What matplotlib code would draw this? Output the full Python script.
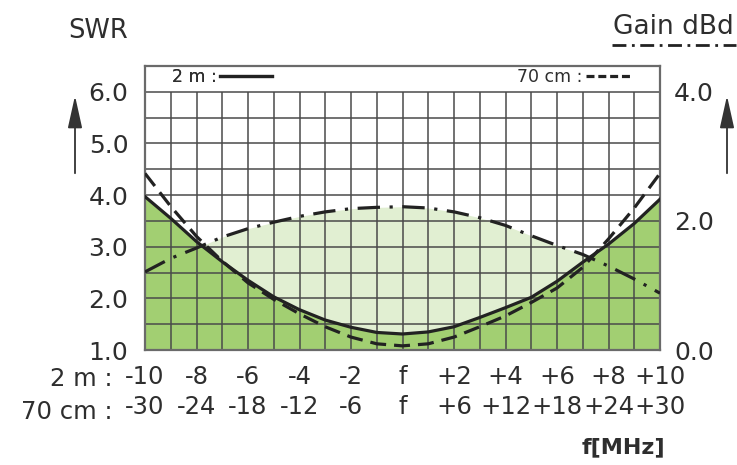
import numpy as np
import matplotlib.pyplot as plt
from matplotlib.lines import Line2D

plt.rcParams['font.family'] = ['DejaVu Sans']

# frequency offset from centre (2 m band, MHz); 70 cm band is 3x
offset = np.arange(-10, 11)
swr_2m = [3.97, 3.55, 3.10, 2.71, 2.35, 2.03, 1.78, 1.58, 1.44, 1.34, 1.31,
          1.35, 1.45, 1.63, 1.82, 2.02, 2.33, 2.70, 3.05, 3.45, 3.92]
swr_70cm = [4.42, 3.78, 3.20, 2.72, 2.30, 1.98, 1.70, 1.45, 1.25, 1.12, 1.08,
            1.12, 1.25, 1.45, 1.66, 1.92, 2.20, 2.60, 3.15, 3.75, 4.42]
gain_dbd = [1.21, 1.42, 1.58, 1.75, 1.88, 1.98, 2.07, 2.14, 2.19, 2.21, 2.22,
            2.20, 2.14, 2.05, 1.93, 1.77, 1.62, 1.48, 1.30, 1.10, 0.88]

swr_ticks = [1.0, 2.0, 3.0, 4.0, 5.0, 6.0]
gain_ticks = [0.0, 2.0, 4.0]
tick_pos = [-10, -8, -6, -4, -2, 0, 2, 4, 6, 8, 10]
labels_2m = ['-10', '-8', '-6', '-4', '-2', 'f', '+2', '+4', '+6', '+8', '+10']
labels_70cm = ['-30', '-24', '-18', '-12', '-6', 'f', '+6', '+12', '+18', '+24', '+30']

dark_green = '#a2cf72'
light_green = '#e1efd2'
txt = '#2e2e2e'
W, H = 737, 465

fig = plt.figure(figsize=(W / 100, H / 100), dpi=100)
ax = fig.add_axes([145 / W, 1 - 350 / H, 515 / W, 284 / H])
ax.set_xlim(-10, 10)
ax.set_ylim(1.0, 6.5)

# gain scale: 0..4 dBd spans SWR 1..6
gain_on_swr = 1 + np.array(gain_dbd) * 1.25
swr_2m_a = np.array(swr_2m)

ax.fill_between(offset, 1.0, swr_2m_a, color=dark_green, lw=0, zorder=1)
ax.fill_between(offset, swr_2m_a, gain_on_swr, where=gain_on_swr > swr_2m_a,
                interpolate=True, color=light_green, lw=0, zorder=1)

# grid
ax.hlines(np.arange(1.0, 6.01, 0.5), -10, 10, color='#4a4a4a', lw=1.1, zorder=2)
ax.vlines(offset, 1.0, 6.0, color='#4a4a4a', lw=1.1, zorder=2)

ax.plot(offset, swr_2m, color='#222222', lw=2.3, zorder=4)
ax.plot(offset, swr_70cm, color='#222222', lw=2.3, ls=(0, (5, 2.5)), zorder=4)

ax.set_yticks(swr_ticks)
ax.set_yticklabels(['%.1f' % v for v in swr_ticks], fontsize=18, color=txt)
ax.set_xticks(tick_pos)
ax.set_xticklabels([a + '\n' + b for a, b in zip(labels_2m, labels_70cm)],
                   fontsize=17.5, color=txt, linespacing=1.3)
ax.tick_params(length=0, pad=12)
ax.tick_params(axis='x', pad=11)
for s in ax.spines.values():
    s.set_color('#6a6a6a')
    s.set_linewidth(1.6)

ax2 = ax.twinx()
ax2.set_ylim(0, 4.4)
ax2.plot(offset, gain_dbd, color='#222222', lw=2.3, ls=(0, (7, 3, 1, 3)), zorder=4)
ax2.set_yticks(gain_ticks)
ax2.set_yticklabels(['%.1f' % v for v in gain_ticks], fontsize=18, color=txt)
ax2.tick_params(length=0, pad=10)
for s in ax2.spines.values():
    s.set_visible(False)

# legend strip
h1 = Line2D([], [], color='#222222', lw=2.3)
h2 = Line2D([], [], color='#222222', lw=2.3, ls=(0, (2.5, 1.2)))
leg1 = ax.legend([h1], ['2 m :'], loc='upper left', frameon=False, markerfirst=False,
                 fontsize=12.5, handlelength=3.0, handletextpad=0.2,
                 borderaxespad=0.1, bbox_to_anchor=(0.035, 1.025))
for t in leg1.get_texts():
    t.set_color(txt)
ax.add_artist(leg1)
leg2 = ax2.legend([h2], ['70 cm :'], loc='upper right', frameon=False, markerfirst=False,
                  fontsize=12.5, handlelength=2.6, handletextpad=0.2,
                  borderaxespad=0.1, bbox_to_anchor=(0.96, 1.025))
for t in leg2.get_texts():
    t.set_color(txt)

# row names of the two frequency scales
fig.text(113 / W, 1 - 379 / H, '2 m :', ha='right', va='center', fontsize=17.5, color=txt)
fig.text(113 / W, 1 - 412 / H, '70 cm :', ha='right', va='center', fontsize=17.5, color=txt)
fig.text(623 / W, 1 - 447 / H, 'f[MHz]', ha='center', va='center', fontsize=16,
         color=txt, fontweight='bold')

# axis titles and arrows
fig.text(98 / W, 1 - 31 / H, 'SWR', ha='center', va='center', fontsize=18.5, color=txt)
fig.text(673 / W, 1 - 27 / H, 'Gain dBd', ha='center', va='center', fontsize=19, color=txt)
fig.add_artist(Line2D([612 / W, 736 / W], [1 - 45 / H] * 2, transform=fig.transFigure,
                      color='#222222', lw=2, ls=(0, (5, 2, 1, 2))))
for xa in (75, 727):
    ax.annotate('', xy=(xa / W, 1 - 93 / H), xytext=(xa / W, 1 - 176 / H),
                xycoords='figure fraction', textcoords='figure fraction',
                arrowprops=dict(arrowstyle='-|>,head_width=0.2,head_length=0.9',
                                color='#333333', lw=1.3, mutation_scale=22))

fig.savefig('out.png', dpi=100)
